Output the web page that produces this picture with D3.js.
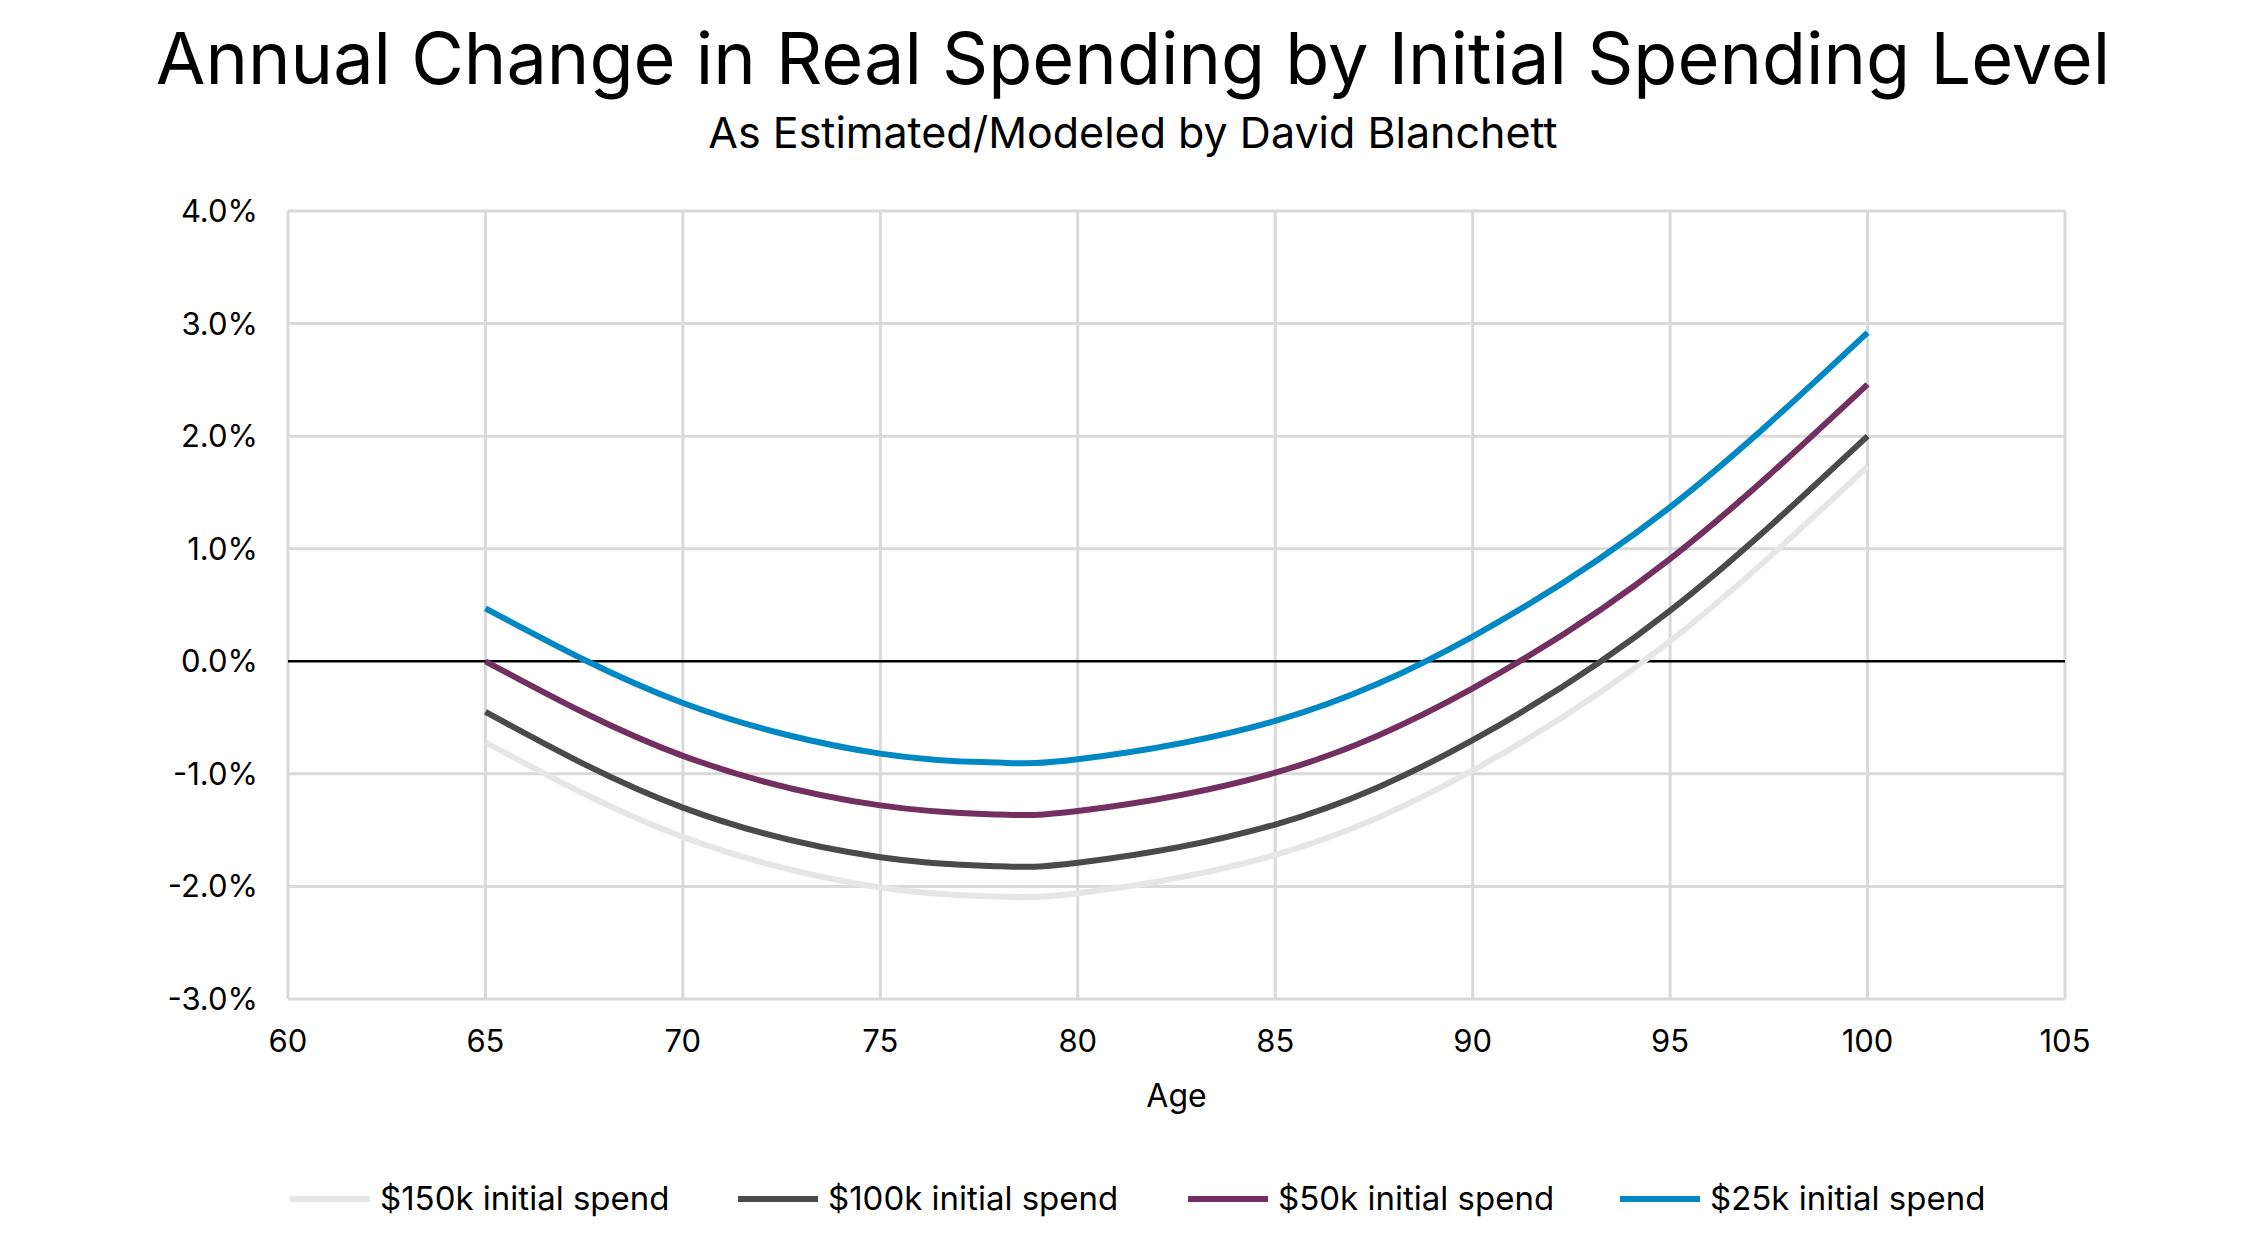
<!DOCTYPE html>
<html>
<head>
<meta charset="utf-8">
<script src="https://cdn.jsdelivr.net/npm/d3@7"></script>
<style>
  body { margin: 0; background: #fff; }
  text { font-family: Inter, "Open Sans", sans-serif; fill: #000; }
</style>
</head>
<body>
<svg width="2267" height="1250"></svg>
<script>
// data (percent)
const ages = [65, 70, 75, 78, 80, 85, 90, 95, 100];
const spend150k = [-0.72, -1.56, -2.01, -2.09, -2.06, -1.72, -0.97, 0.18, 1.73];
const spend100k = [-0.45, -1.30, -1.74, -1.82, -1.79, -1.45, -0.70, 0.45, 2.00];
const spend50k = [0.00, -0.84, -1.28, -1.36, -1.33, -0.99, -0.24, 0.91, 2.46];
const spend25k = [0.47, -0.37, -0.82, -0.90, -0.87, -0.53, 0.22, 1.37, 2.92];
const seriesNames = ['$150k initial spend', '$100k initial spend', '$50k initial spend', '$25k initial spend'];
const xTicks = [60, 65, 70, 75, 80, 85, 90, 95, 100, 105];
const yTicks = [-3, -2, -1, 0, 1, 2, 3, 4];

const series = [spend150k, spend100k, spend50k, spend25k];
const colors = ['#e6e6e6', '#4a4a4d', '#722f5f', '#0088c4'];

const svg = d3.select('svg');
const mLeft = 288, mRight = 2065, mTop = 211, mBottom = 999;

const x = d3.scaleLinear().domain([60, 105]).range([mLeft, mRight]);
const y = d3.scaleLinear().domain([-3, 4]).range([mBottom, mTop]);

// titles
svg.append('text').attr('x', 1133).attr('y', 84).attr('text-anchor', 'middle')
  .attr('font-size', 72).text('Annual Change in Real Spending by Initial Spending Level');
svg.append('text').attr('x', 1133).attr('y', 148).attr('text-anchor', 'middle')
  .attr('font-size', 43).text('As Estimated/Modeled by David Blanchett');

// grid
svg.append('g').selectAll('line').data(xTicks).join('line')
  .attr('x1', (d) => x(d)).attr('x2', (d) => x(d))
  .attr('y1', mTop).attr('y2', mBottom)
  .attr('stroke', '#d9d9d9').attr('stroke-width', 3);
svg.append('g').selectAll('line').data(yTicks.filter((d) => d !== 0)).join('line')
  .attr('x1', mLeft).attr('x2', mRight)
  .attr('y1', (d) => y(d)).attr('y2', (d) => y(d))
  .attr('stroke', '#d9d9d9').attr('stroke-width', 3);
svg.append('line').attr('x1', mLeft).attr('x2', mRight)
  .attr('y1', y(0)).attr('y2', y(0)).attr('stroke', '#000').attr('stroke-width', 2.5);

// axes labels
svg.append('g').selectAll('text').data(xTicks).join('text')
  .attr('x', (d) => x(d)).attr('y', mBottom + 53).attr('text-anchor', 'middle')
  .attr('font-size', 31).text((d) => d);
svg.append('g').selectAll('text').data(yTicks).join('text')
  .attr('x', mLeft - 30).attr('y', (d) => y(d) + 11).attr('text-anchor', 'end')
  .attr('font-size', 31).text((d) => d.toFixed(1) + '%');
svg.append('text').attr('x', x(82.5)).attr('y', 1107).attr('text-anchor', 'middle')
  .attr('font-size', 32).text('Age');

// lines
const line = d3.line().x((d) => x(d[0])).y((d) => y(d[1])).curve(d3.curveNatural);
svg.append('g').selectAll('path').data(series).join('path')
  .attr('d', (s) => line(ages.map((a, i) => [a, s[i]])))
  .attr('fill', 'none')
  .attr('stroke', (d, i) => colors[i])
  .attr('stroke-width', 6);

// legend
const legX = [290, 738, 1188, 1620];
const leg = svg.append('g').selectAll('g').data(seriesNames).join('g')
  .attr('transform', (d, i) => `translate(${legX[i]},1199)`);
leg.append('line').attr('x1', 0).attr('x2', 80)
  .attr('stroke', (d, i) => colors[i]).attr('stroke-width', 6);
leg.append('text').attr('x', 90).attr('y', 11).attr('font-size', 33).text((d) => d);
</script>
</body>
</html>
